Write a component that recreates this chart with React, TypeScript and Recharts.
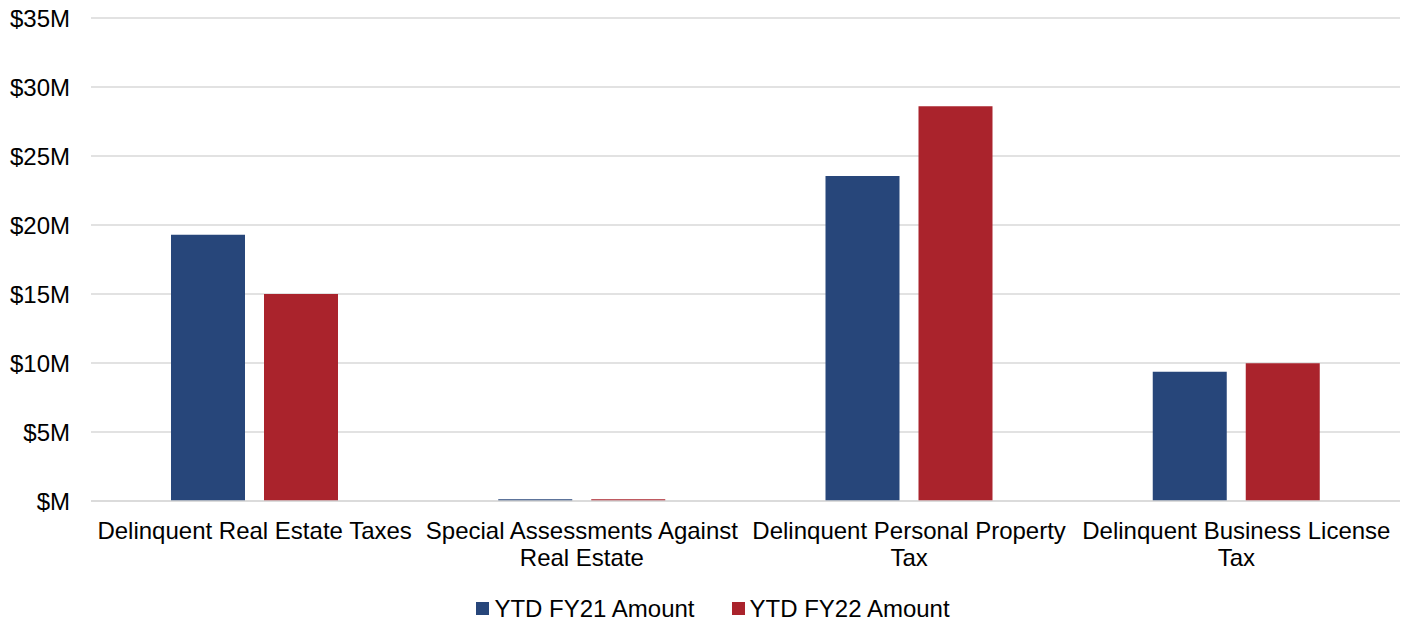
import React from "react";
import { BarChart, Bar, XAxis, YAxis, CartesianGrid, Legend } from "recharts";

const categories = [
  "Delinquent Real Estate Taxes",
  "Special Assessments Against Real Estate",
  "Delinquent Personal Property Tax",
  "Delinquent Business License Tax",
];
const tickLines = [
  ["Delinquent Real Estate Taxes"],
  ["Special Assessments Against", "Real Estate"],
  ["Delinquent Personal Property", "Tax"],
  ["Delinquent Business License", "Tax"],
];
const fy21 = [19.3, 0.12, 23.55, 9.37];
const fy22 = [15.0, 0.12, 28.6, 9.98];
const yTicks = [0, 5, 10, 15, 20, 25, 30, 35];
const seriesNames = ["YTD FY21 Amount", "YTD FY22 Amount"];
const colors = ["#27467A", "#AA232C"];

const data = categories.map((c, i) => ({ name: c, fy21: fy21[i], fy22: fy22[i] }));

const FONT = "'Liberation Sans', Arial, sans-serif";

const XTick = (props: any) => {
  const { x, y, index } = props;
  const lines = tickLines[index] || [props.payload.value];
  return (
    <text x={x} y={y} textAnchor="middle" fontSize={24} fill="#000" fontFamily={FONT}>
      {lines.map((l: string, i: number) => (
        <tspan key={i} x={x} y={y + 38 + i * 27}>
          {l}
        </tspan>
      ))}
    </text>
  );
};

const LegendContent = () => (
  <div
    style={{
      height: 50,
      boxSizing: "border-box",
      paddingTop: 25,
      paddingLeft: 26,
      display: "flex",
      justifyContent: "center",
      fontFamily: FONT,
      fontSize: 24,
      lineHeight: "24px",
      color: "#000",
    }}
  >
    {seriesNames.map((n, i) => (
      <div key={n} style={{ display: "flex", alignItems: "center", marginLeft: i ? 37 : 0 }}>
        <div style={{ width: 13, height: 13, background: colors[i], marginRight: 5 }} />
        <span>{n}</span>
      </div>
    ))}
  </div>
);

export default function App() {
  return (
    <div style={{ position: "absolute", left: 0, top: 0, background: "#fff" }}>
      <BarChart
        width={1405}
        height={621}
        data={data}
        margin={{ top: 18, right: 5, bottom: 0, left: 0 }}
        barSize={74}
        barGap={19}
      >
        <CartesianGrid vertical={false} stroke="#d9d9d9" strokeWidth={1.5} />
        <XAxis
          dataKey="name"
          height={70}
          tickLine={false}
          axisLine={{ stroke: "#d9d9d9", strokeWidth: 1.5 }}
          tick={<XTick />}
          interval={0}
          tickSize={0}
          tickMargin={0}
        />
        <YAxis
          width={91}
          domain={[0, 35]}
          ticks={yTicks}
          tickFormatter={(v: number) => (v === 0 ? "$M" : `$${v}M`)}
          axisLine={false}
          tickLine={false}
          tickSize={0}
          tickMargin={21}
          tick={{ fontSize: 24, fill: "#000", fontFamily: FONT }}
        />
        <Legend verticalAlign="bottom" content={<LegendContent />} />
        <Bar dataKey="fy21" name={seriesNames[0]} fill={colors[0]} isAnimationActive={false} />
        <Bar dataKey="fy22" name={seriesNames[1]} fill={colors[1]} isAnimationActive={false} />
      </BarChart>
    </div>
  );
}
